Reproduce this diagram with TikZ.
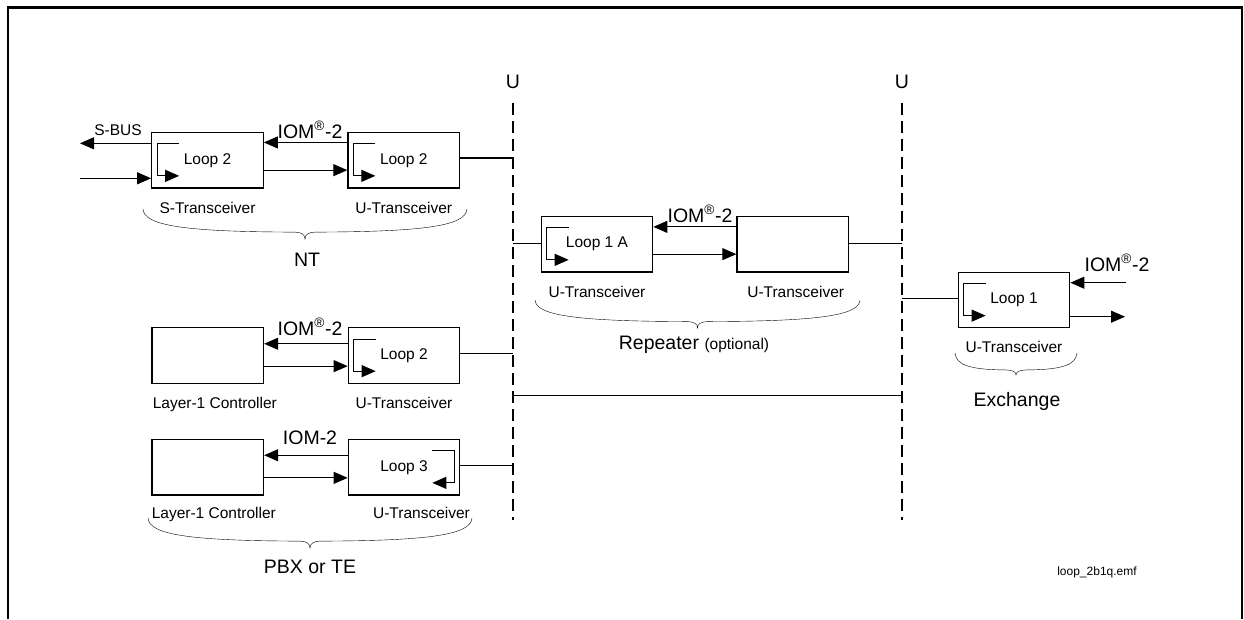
\documentclass[tikz,border=0pt]{standalone}
\usepackage{fontspec}
\setmainfont{Liberation Sans}
\usetikzlibrary{arrows.meta,positioning,calc}

\tikzset{
  block/.style={draw, line width=1.2pt, minimum width=111.5pt, minimum height=55.5pt,
    inner sep=0pt, font=\fontsize{15.5}{18}\selectfont},
  sublab/.style={inner sep=0pt, font=\fontsize{15.5}{18}\selectfont},
  biglab/.style={inner sep=0pt, font=\fontsize{19.5}{23}\selectfont},
  sig/.style={line width=1pt, -{Triangle[length=14pt,width=12pt]}},
  link/.style={line width=1.1pt},
  loopline/.style={line width=1.1pt, -{Triangle[length=14pt,width=12pt]}},
  iface/.style={line width=1.4pt, dash pattern=on 12pt off 6pt},
  ubrace/.style={line width=1.2pt, to path={
    let \p1=(\tikztostart), \p2=(\tikztotarget), \n1={(\x2-\x1)/2}, \n2={#1} in
    .. controls (\x1+1pt,\y1-0.55*\n2) and (\x1+0.25*\n1,\y1-0.76*\n2) .. (\x1+\n1-10pt,\y1-0.77*\n2)
    .. controls (\x1+\n1-3pt,\y1-0.78*\n2) and (\x1+\n1,\y1-0.86*\n2) .. (\x1+\n1,\y1-\n2)
    .. controls (\x1+\n1,\y1-0.86*\n2) and (\x1+\n1+3pt,\y1-0.78*\n2) .. (\x1+\n1+10pt,\y1-0.77*\n2)
    .. controls (\x2-0.25*\n1,\y1-0.76*\n2) and (\x2-1pt,\y1-0.55*\n2) .. (\p2)}}
}

% loop inside a transceiver
\newcommand{\loopfwd}[1]{\draw[loopline] ($(#1.north west)+(28,12)$) -| ($(#1.north west)+(6,44)$) -- ($(#1.north west)+(28,44)$);}
\newcommand{\loopbck}[1]{\draw[loopline] ($(#1.north east)+(-28,12)$) -| ($(#1.north east)+(-6,44)$) -- ($(#1.north east)+(-28,44)$);}

\begin{document}
\begin{tikzpicture}[x=1pt,y=-1pt]
  \useasboundingbox (0,0) rectangle (1244,619);
  \draw[line width=2.2pt] (8,619) -- (8,7.5) -- (1242,7.5) -- (1242,619);

  % U interfaces
  \node[biglab] (uA) at (513,82) {U};
  \node[biglab] (uB) at (902,82) {U};
  \coordinate (uAtop) at (513,103);
  \coordinate (uAbot) at (513,520);
  \coordinate (uBtop) at (902,103);
  \coordinate (uBbot) at (902,520);
  \draw[iface] (uAtop) -- (uAbot);
  \draw[iface] (uBtop) -- (uBbot);

  % NT
  \node[block] (sNT) at (207.5,160.2) {Loop 2};
  \node[block, right=83.5pt of sNT] (uNT) {Loop 2};
  \node[sublab, below=14pt of sNT] {S-Transceiver};
  \node[sublab, below=14pt of uNT] {U-Transceiver};
  \loopfwd{sNT}
  \loopfwd{uNT}
  \draw[sig] ([yshift=-10.6pt]uNT.north west) -- ([yshift=-10.6pt]sNT.north east);
  \draw[sig] ([yshift=-38.3pt]sNT.north east) -- ([yshift=-38.3pt]uNT.north west);
  \node[biglab] (iomNT) at (310,130) {IOM\textsuperscript{®}-2};
  \coordinate (sbus) at (80,143.3);
  \coordinate (sin) at (80,178.3);
  \draw[sig] (sNT.west |- sbus) -- (sbus);
  \draw[sig] (sin) -- (sin -| sNT.west);
  \node[sublab] (sbuslab) at (118,130) {S-BUS};
  \draw[link, line width=2pt] ([yshift=2pt]uNT.east) -- ([yshift=2pt]uNT.east -| uAtop);
  \coordinate (ntL) at (143,209);
  \coordinate (ntR) at (467,209);
  \draw (ntL) to[ubrace=30] (ntR);
  \node[biglab] (nt) at (307,260) {NT};

  % Repeater
  \node[block] (rA) at (597,244.2) {Loop 1 A};
  \node[block, right=83pt of rA] (rB) {};
  \node[sublab, below=14pt of rA] {U-Transceiver};
  \node[sublab, below=14pt of rB, xshift=3pt] {U-Transceiver};
  \loopfwd{rA}
  \draw[sig] ([yshift=-11pt]rB.north west) -- ([yshift=-11pt]rA.north east);
  \draw[sig] ([yshift=-38.3pt]rA.north east) -- ([yshift=-38.3pt]rB.north west);
  \node[biglab] (iomR) at (700,214) {IOM\textsuperscript{®}-2};
  \draw[link] ([yshift=1pt]rA.west) -- ([yshift=1pt]rA.west -| uAtop);
  \draw[link] ([yshift=1pt]rB.east) -- ([yshift=1pt]rB.east -| uBtop);
  \coordinate (repL) at (535,300);
  \coordinate (repR) at (860,300);
  \draw (repL) to[ubrace=28] (repR);
  \node[biglab] (rep) at (694,345) {Repeater {\fontsize{15.5}{18}\selectfont (optional)}};

  % Exchange
  \node[block] (ex) at (1014,300) {Loop 1};
  \node[sublab, below=13pt of ex] {U-Transceiver};
  \loopfwd{ex}
  \draw[link] ([yshift=1.7pt]ex.west) -- ([yshift=1.7pt]ex.west -| uBtop);
  \coordinate (exin) at (1125.7,282.7);
  \coordinate (exout) at (1125,316.7);
  \draw[sig] (exin) -- (exin -| ex.east);
  \draw[sig] (exout -| ex.east) -- (exout);
  \node[biglab] (iomEx) at (1117,263) {IOM\textsuperscript{®}-2};
  \coordinate (exL) at (955,353);
  \coordinate (exR) at (1077,353);
  \draw (exL) to[ubrace=22] (exR);
  \node[biglab] (exch) at (1017,401.7) {Exchange};

  % trunk between the U interfaces
  \coordinate (trunk) at (513,395.5);
  \draw[link] (trunk) -- (trunk -| uBtop);

  % PBX or TE
  \node[block] (lcA) at (207.8,355.5) {};
  \node[block, right=83.5pt of lcA] (uPA) {Loop 2};
  \node[sublab, below=13pt of lcA, xshift=7pt] {Layer-1 Controller};
  \node[sublab, below=13pt of uPA] {U-Transceiver};
  \loopfwd{uPA}
  \draw[sig] ([yshift=-16.6pt]uPA.north west) -- ([yshift=-16.6pt]lcA.north east);
  \draw[sig] ([yshift=-39pt]lcA.north east) -- ([yshift=-39pt]uPA.north west);
  \node[biglab] (iomPA) at (310,326.7) {IOM\textsuperscript{®}-2};
  \draw[link] ([yshift=2pt]uPA.east) -- ([yshift=2pt]uPA.east -| uAtop);

  \node[block] (lcB) at (207.8,467.2) {};
  \node[block, right=83.5pt of lcB] (uPB) {Loop 3};
  \node[sublab, below=12pt of lcB, xshift=6pt] {Layer-1 Controller};
  \node[sublab, below=12pt of uPB, xshift=17.5pt] {U-Transceiver};
  \loopbck{uPB}
  \draw[sig] ([yshift=-16.4pt]uPB.north west) -- ([yshift=-16.4pt]lcB.north east);
  \draw[sig] ([yshift=-39pt]lcB.north east) -- ([yshift=-39pt]uPB.north west);
  \node[biglab] (iomPB) at (310,437.7) {IOM-2};
  \draw[link] ([yshift=2pt]uPB.east) -- ([yshift=2pt]uPB.east -| uAtop);
  \coordinate (pbxL) at (148,518);
  \coordinate (pbxR) at (472,518);
  \draw (pbxL) to[ubrace=30] (pbxR);
  \node[biglab] (pbx) at (310,566.7) {PBX or TE};

  \node[font=\fontsize{12}{14}\selectfont] (emf) at (1097,572) {loop\_2b1q.emf};
\end{tikzpicture}
\end{document}
